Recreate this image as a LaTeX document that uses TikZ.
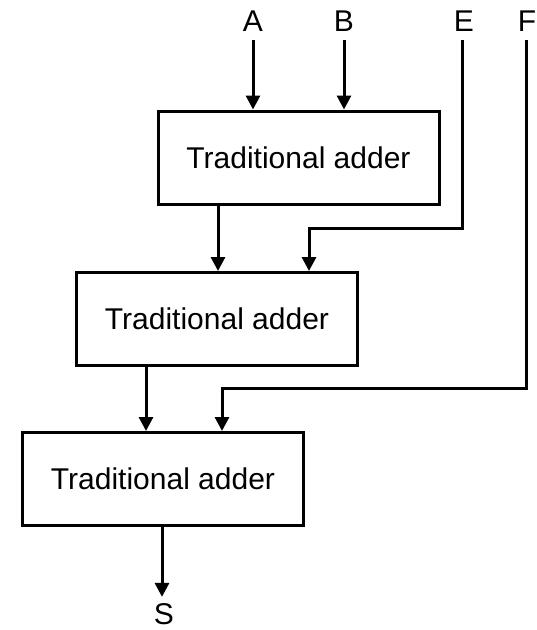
\documentclass[tikz,border=0pt]{standalone}
\usepackage{fontspec}
\setmainfont{Liberation Sans}
\usetikzlibrary{arrows.meta,calc}
\begin{document}
\begin{tikzpicture}[x=1pt,y=-1pt,
  adder/.style={draw=black,line width=3pt,minimum width=281pt,minimum height=93pt,inner sep=0pt,font=\fontsize{30}{36}\selectfont},
  lbl/.style={inner sep=0pt,font=\fontsize{30}{36}\selectfont},
  wire/.style={line width=3pt},
  arr/.style={wire,-{Triangle[width=14pt,length=14pt]}}]
\useasboundingbox (0,0) rectangle (537,630);
\node[adder] (b1) at (298.5,157.5) {Traditional adder};
\node[adder] (b2) at (217,319) {Traditional adder};
\node[adder] (b3) at (163,479) {Traditional adder};
\node[lbl,anchor=base] (A) at (253,31) {A};
\node[lbl,anchor=base] (B) at (344,31) {B};
\node[lbl,anchor=base] (E) at (464,31) {E};
\node[lbl,anchor=base] (F) at (527,31) {F};
\node[lbl,anchor=base] (S) at (164,624) {S};
\coordinate (o1) at (218,205);
\coordinate (o2) at (146,365);
\coordinate (o3) at (162,525);
\coordinate (e1) at (309,228);
\coordinate (f1) at (222,388);
\coordinate (ea) at (462,40);
\coordinate (fa) at (526,40);
\draw[arr] ([yshift=-9pt]A.south) -- (A.south |- b1.north);
\draw[arr] ([yshift=-9pt]B.south) -- (B.south |- b1.north);
\draw[arr] (o1) -- (o1 |- b2.north);
\draw[arr] (ea) |- (e1) -- (e1 |- b2.north);
\draw[arr] (o2) -- (o2 |- b3.north);
\draw[arr] (fa) |- (f1) -- (f1 |- b3.north);
\draw[arr] (o3) -- ([yshift=6pt]o3 |- S.north);
\end{tikzpicture}
\end{document}
